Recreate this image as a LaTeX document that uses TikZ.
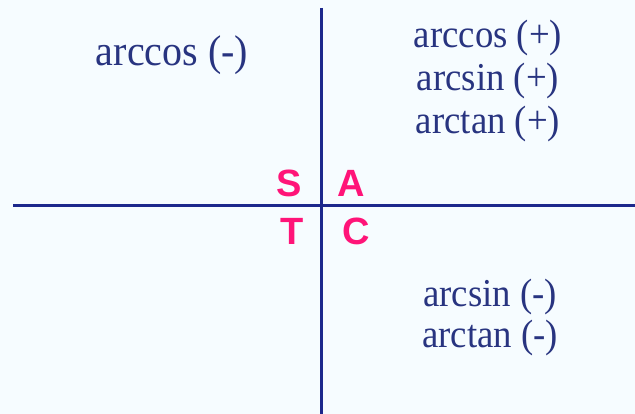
\documentclass[tikz,border=0pt]{standalone}
\usepackage{fontspec}
\setmainfont{Liberation Serif}
\newfontfamily\labelfont[FakeStretch=0.93]{Liberation Serif}
\newfontfamily\handfont{Liberation Sans}
\definecolor{bgc}{RGB}{246,252,255}
\definecolor{navytext}{RGB}{40,52,128}
\definecolor{axisc}{RGB}{28,40,140}
\definecolor{pinkc}{RGB}{255,20,120}
\begin{document}
\begin{tikzpicture}[x=1pt,y=-1pt,
  lbl/.style={text=navytext,inner sep=0pt,anchor=base,font=\labelfont\fontsize{39.5}{46}\selectfont},
  biglbl/.style={lbl,font=\labelfont\fontsize{43}{50}\selectfont},
  quad/.style={text=pinkc,inner sep=0pt,anchor=base,font=\handfont\bfseries\fontsize{38}{46}\selectfont},
  axis/.style={draw=axisc,line width=3pt}]
\fill[bgc] (0,0) rectangle (635,414);
\useasboundingbox (0,0) rectangle (635,414);
% axes
\coordinate (vtop) at (321.5,8);
\coordinate (vbot) at (321.5,414);
\coordinate (hleft) at (13,206);
\coordinate (hright) at (635,206);
\draw[axis] (vtop) -- (vbot);
\draw[axis] (hleft) -- (hright);
% labels
\node[biglbl] (q2) at (172,66) {arccos (-)};
\node[lbl] (q1a) at (488,48) {arccos (+)};
\node[lbl] (q1b) at (488,91) {arcsin (+)};
\node[lbl] (q1c) at (488,134) {arctan (+)};
\node[lbl] (q4a) at (490,306) {arcsin (-)};
\node[lbl] (q4b) at (490,348) {arctan (-)};
% quadrant letters
\node[quad] (S) at (289,197) {S};
\node[quad] (A) at (351.5,197) {A};
\node[quad] (T) at (292,245) {T};
\node[quad] (C) at (356,245) {C};
\end{tikzpicture}
\end{document}
